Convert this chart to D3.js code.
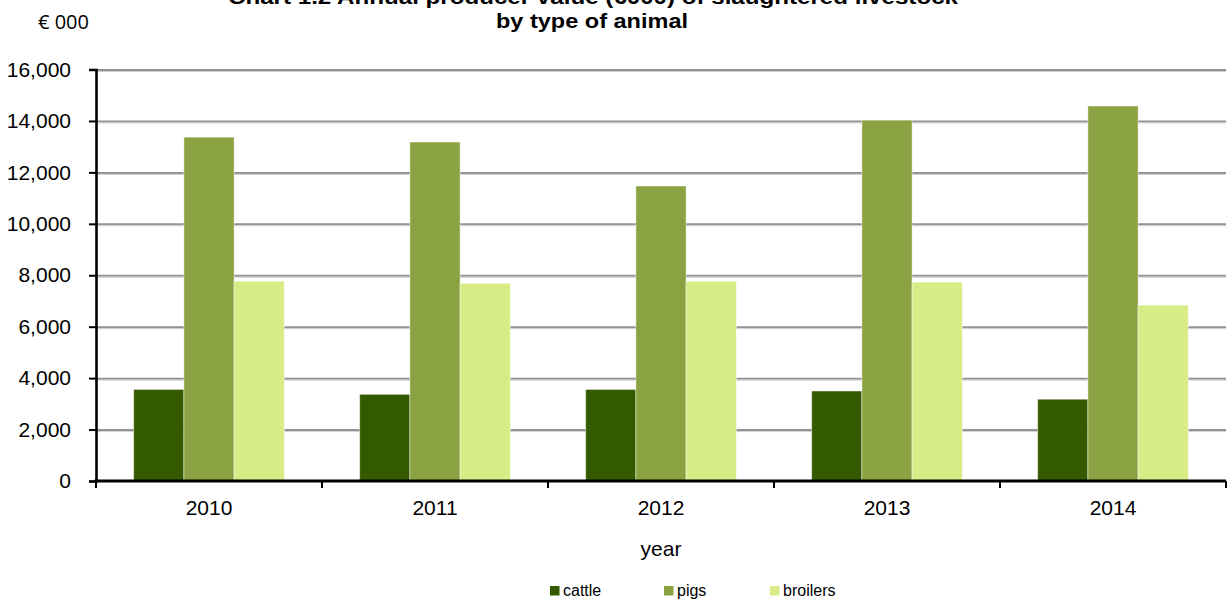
<!DOCTYPE html>
<html><head><meta charset="utf-8">
<script src="https://cdn.jsdelivr.net/npm/d3@7"></script>
<style>
body{margin:0;background:#fff}
svg{display:block}
text{font-family:"Liberation Sans",Arial,sans-serif;fill:#000}
</style>
</head><body>
<svg id="c" width="1227" height="602"></svg>
<script>
// ---- data ----
const years = ["2010", "2011", "2012", "2013", "2014"];
const seriesNames = ["cattle", "pigs", "broilers"];
const cattle = [3560, 3370, 3560, 3500, 3180];
const pigs = [13370, 13180, 11470, 14030, 14580];
const broilers = [7770, 7690, 7770, 7730, 6840];
const yTickValues = [0, 2000, 4000, 6000, 8000, 10000, 12000, 14000, 16000];
const titleLines = ["Chart 1.2  Annual producer value (\u20ac000) of slaughtered livestock", "by type of animal"];
const unitLabel = "\u20ac 000";
const xAxisTitle = "year";

// ---- layout ----
const colors = {cattle: "#345a00", pigs: "#8ba242", broilers: "#d8ec86"};
const L = 96, R = 1226, B = 481, T = 69.5;
const svg = d3.select("#c");

const seriesValues = {cattle, pigs, broilers};
const table = years.map((yr, i) => ({year: yr, values: seriesNames.map(s => ({key: s, value: seriesValues[s][i]}))}));

const x = d3.scaleBand().domain(years).range([L, R]).padding(0);
const xs = d3.scaleBand().domain(seriesNames).range([0, x.bandwidth()]).paddingInner(0).paddingOuter(0.75);
const y = d3.scaleLinear().domain([0, 16000]).range([B, T]);

// gridlines
const grid = svg.append("g").attr("transform", `translate(${L},0)`)
  .call(d3.axisLeft(y).tickValues(yTickValues.filter(v => v > 0)).tickSize(-(R - L)).tickFormat(""));
grid.select(".domain").remove();
grid.selectAll("line").attr("stroke", "#929292").attr("stroke-width", 2);
grid.selectAll(".tick").append("line").attr("x1", 0).attr("x2", R - L).attr("y1", 1.5).attr("y2", 1.5)
  .attr("stroke", "#cfcfcf").attr("stroke-width", 1);

// bars
const groups = svg.append("g").selectAll("g").data(table).join("g")
  .attr("transform", d => `translate(${x(d.year)},0)`);
groups.selectAll("rect").data(d => d.values).join("rect")
  .attr("x", d => xs(d.key))
  .attr("y", d => y(d.value))
  .attr("width", xs.bandwidth())
  .attr("height", d => y(0) - y(d.value))
  .attr("fill", d => colors[d.key])
  .attr("stroke", "rgba(255,255,255,0.45)")
  .attr("stroke-width", 1);

// y axis
const ya = svg.append("g").attr("transform", `translate(${L},0)`)
  .call(d3.axisLeft(y).tickValues(yTickValues).tickSize(7).tickPadding(18).tickFormat(d3.format(",")));
ya.select(".domain").attr("stroke", "#000").attr("stroke-width", 2.6);
ya.selectAll(".tick line").attr("stroke", "#000").attr("stroke-width", 2);
ya.selectAll(".tick text").attr("font-size", 21).attr("font-family", "Liberation Sans, Arial, sans-serif").attr("fill", "#000");

// x axis
const xa = svg.append("g").attr("transform", `translate(0,${B})`)
  .call(d3.axisBottom(x).tickSize(0).tickPadding(0));
xa.select(".domain").attr("d", `M${L - 1.3},0H${R}`).attr("stroke", "#000").attr("stroke-width", 2.8);
xa.selectAll(".tick text").attr("y", 34).attr("dy", 0).attr("font-size", 21)
  .attr("font-family", "Liberation Sans, Arial, sans-serif").attr("fill", "#000");
const bounds = years.map(v => x(v)).concat([x(years[years.length - 1]) + x.bandwidth()]);
xa.selectAll(".bound").data(bounds).join("line").attr("class", "bound")
  .attr("x1", d => d).attr("x2", d => d).attr("y1", 0).attr("y2", 7)
  .attr("stroke", "#000").attr("stroke-width", 2);

// titles
svg.append("text").attr("x", 593).attr("y", 4).attr("text-anchor", "middle")
  .attr("font-weight", "bold").attr("font-size", 21)
  .attr("textLength", 730).attr("lengthAdjust", "spacingAndGlyphs").text(titleLines[0]);
svg.append("text").attr("x", 592).attr("y", 28).attr("text-anchor", "middle")
  .attr("font-weight", "bold").attr("font-size", 21)
  .attr("textLength", 192).attr("lengthAdjust", "spacingAndGlyphs").text(titleLines[1]);
svg.append("text").attr("x", 38).attr("y", 29).attr("font-size", 20)
  .style("font-family", "'Open Sans', 'Noto Sans', sans-serif").text(unitLabel);
svg.append("text").attr("x", (L + R) / 2).attr("y", 556).attr("text-anchor", "middle")
  .attr("font-size", 21).text(xAxisTitle);

// legend
const legendX = [550, 664, 770];
const lg = svg.append("g").selectAll("g").data(seriesNames).join("g")
  .attr("transform", (d, i) => `translate(${legendX[i]},586)`);
lg.append("rect").attr("width", 9.5).attr("height", 9.5).attr("fill", d => colors[d]);
lg.append("text").attr("x", 13).attr("y", 9.5).attr("font-size", 16).text(d => d);
</script>
</body></html>
